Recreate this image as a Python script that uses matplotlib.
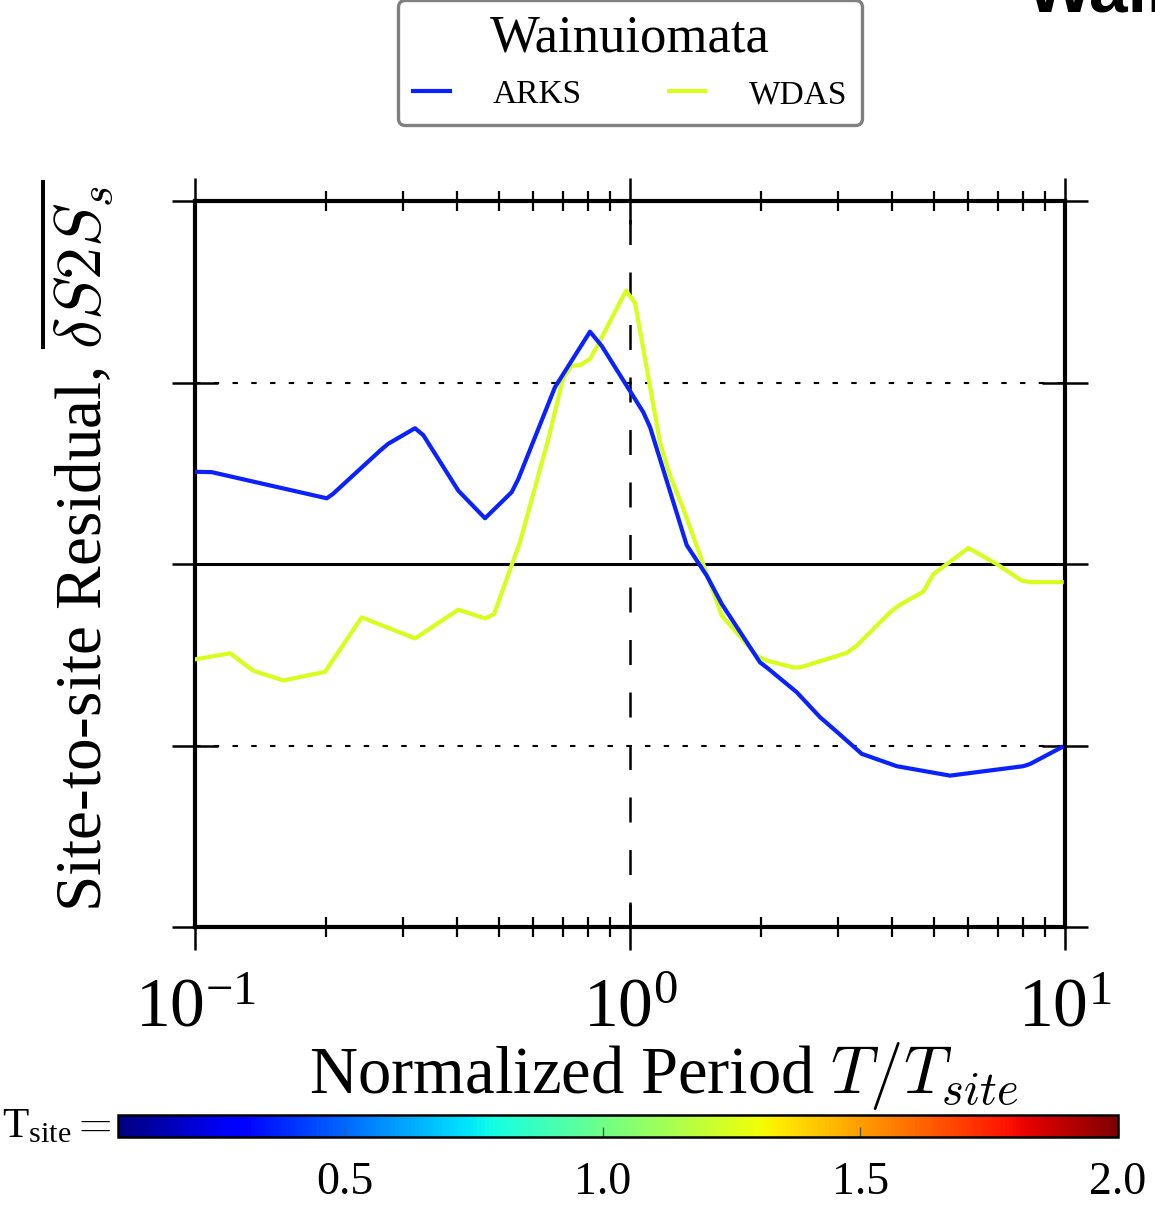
import numpy as np
import matplotlib
matplotlib.use("Agg")
import matplotlib.pyplot as plt
from matplotlib.colors import Normalize
from matplotlib.cm import ScalarMappable
from matplotlib.ticker import LogLocator, NullFormatter

plt.rcParams["font.family"] = ["Liberation Serif", "DejaVu Serif"]
plt.rcParams["mathtext.fontset"] = "cm"

# Normalized period T/T_site and site-to-site residuals per station
arks_period = [0.1009, 0.1093, 0.1338, 0.2009, 0.2075, 0.2662, 0.2779, 0.3204,
               0.3348, 0.4030, 0.4642, 0.5346, 0.5536, 0.6722, 0.8091, 0.8607,
               1.073, 1.112, 1.350, 1.501, 1.625, 1.990, 2.062, 2.416, 2.734,
               2.987, 3.410, 4.104, 5.440, 8.018, 8.309, 9.826]
arks_resid = [0.254, 0.253, 0.229, 0.181, 0.193, 0.312, 0.331, 0.374,
              0.355, 0.202, 0.126, 0.198, 0.234, 0.487, 0.640, 0.601,
              0.418, 0.377, 0.052, -0.032, -0.110, -0.271, -0.285, -0.353, -0.422,
              -0.462, -0.523, -0.557, -0.583, -0.557, -0.551, -0.505]

wdas_period = [0.1009, 0.1204, 0.1361, 0.1596, 0.1990, 0.2416, 0.3204, 0.4030,
               0.4642, 0.4868, 0.5585, 0.6489, 0.7025, 0.7345, 0.7675, 0.8091,
               0.8455, 0.9790, 1.027, 1.073, 1.172, 1.236, 1.326, 1.625, 1.956,
               2.062, 2.374, 2.460, 3.148, 3.320, 3.961, 4.139, 4.725, 4.981,
               5.996, 6.966, 7.950, 8.309, 9.826]
wdas_resid = [-0.262, -0.246, -0.294, -0.321, -0.297, -0.147, -0.205, -0.126,
              -0.150, -0.138, 0.060, 0.344, 0.514, 0.546, 0.548, 0.565,
              0.606, 0.753, 0.719, 0.592, 0.335, 0.243, 0.152, -0.142, -0.253,
              -0.266, -0.285, -0.285, -0.245, -0.225, -0.133, -0.115, -0.076, -0.028,
              0.044, 0.0, -0.046, -0.050, -0.050]

station_names = ["ARKS", "WDAS"]
station_colors = ["#0A22FF", "#D6FF1E"]
y_ticks = [-1.0, -0.5, 0.0, 0.5, 1.0]
cbar_ticks = [0.5, 1.0, 1.5, 2.0]
tsite_range = (0.06, 2.0)

fig = plt.figure(figsize=(11.55, 12.05), dpi=100)
ax = fig.add_axes([195 / 1155, 1 - 927 / 1205, 870 / 1155, 726 / 1205])

ax.plot(arks_period, arks_resid, color=station_colors[0], lw=3.0, label=station_names[0], zorder=4)
ax.plot(wdas_period, wdas_resid, color=station_colors[1], lw=3.0, label=station_names[1], zorder=3)

# reference lines
ax.axhline(0.0, color="black", lw=2.2, zorder=2)
for yv in (-0.5, 0.5):
    ax.axhline(yv, color="black", lw=1.5, linestyle=(0, (2.6, 6.4)), zorder=1)
ax.axvline(1.0, color="black", lw=1.8, linestyle=(0, (10, 11)), zorder=1)

ax.set_xscale("log")
ax.set_xlim(0.1, 10)
ax.set_ylim(-1, 1)
ax.set_yticks(y_ticks)
ax.set_yticklabels([])
ax.xaxis.set_minor_locator(LogLocator(base=10, subs=np.arange(2, 10)))
ax.xaxis.set_minor_formatter(NullFormatter())

for sp in ax.spines.values():
    sp.set_linewidth(3.0)

ax.tick_params(axis="both", which="major", direction="inout", length=33, width=1.8,
               top=True, right=True, labelsize=50, pad=20)
ax.tick_params(axis="x", which="minor", direction="inout", length=15, width=1.6,
               top=True, bottom=True)

ax.set_xlabel(r"Normalized Period $T/T_{site}$", fontsize=48)
ax.xaxis.set_label_coords(0.539, -0.205)
ax.xaxis.label.set_va("center")
ax.set_ylabel(r"Site-to-site Residual, $\overline{\delta S2S_s}$", fontsize=47, va="center")
ax.yaxis.set_label_coords(-0.136, 0.526)

leg = ax.legend(loc="lower center", bbox_to_anchor=(630 / 1155, 1 - 125 / 1205),
                bbox_transform=fig.transFigure, borderaxespad=0, ncol=2,
                title="Wainuiomata", title_fontsize=38, fontsize=24,
                handlelength=1.1, handletextpad=1.3, columnspacing=2.6,
                borderpad=0.45, fancybox=True, framealpha=1.0)
leg.get_frame().set_edgecolor("#808080")
leg.get_frame().set_linewidth(2.4)
for ln in leg.get_lines():
    ln.set_linewidth(3.0)

# colour scale of site periods
cax = fig.add_axes([118 / 1155, 1 - 1137 / 1205, 1000 / 1155, 22 / 1205])
sm = ScalarMappable(norm=Normalize(*tsite_range), cmap="jet")
cb = fig.colorbar(sm, cax=cax, orientation="horizontal", ticks=cbar_ticks)
cb.outline.set_linewidth(1.8)
cb.ax.tick_params(direction="in", length=7, width=1, color="#555555", labelsize=33, pad=18)
cb.ax.set_xticklabels(["%.1f" % t for t in cbar_ticks])
fig.text(112 / 1155, 1 - 1127 / 1205, r"$\mathregular{T_{site}}=$", fontsize=31,
         ha="right", va="center")

fig.text(1027 / 1155, 1 - 12 / 1205, "Wainuiomata", fontsize=50, fontweight="bold",
         family="Liberation Sans", ha="left", va="baseline")

fig.savefig("out.png", dpi=100)
